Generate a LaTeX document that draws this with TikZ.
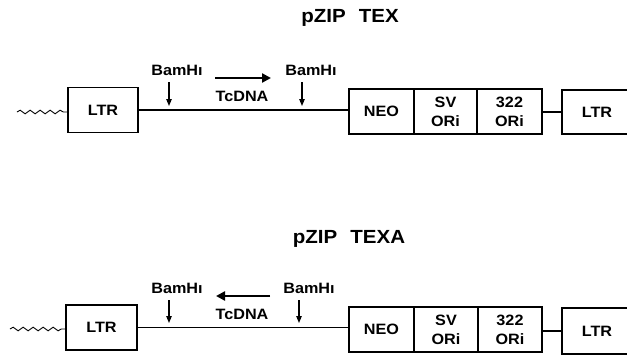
\documentclass[tikz,border=0pt]{standalone}
\usepackage{fontspec}
\setmainfont[FakeStretch=1.08]{Liberation Sans}
\usetikzlibrary{decorations.pathmorphing,arrows.meta}
\begin{document}
\begin{tikzpicture}[x=1pt,y=-1pt,
  box/.style={draw, line width=1.2pt, minimum height=45, inner sep=0, align=center,
    font=\bfseries\fontsize{15}{19}\selectfont},
  lbl/.style={inner sep=0, font=\bfseries\fontsize{15}{17}\selectfont},
  ttl/.style={inner sep=0, font=\bfseries\fontsize{19}{22}\selectfont},
  dnaline/.style={line width=1.1pt},
  wave/.style={line width=0.9pt, decorate, decoration={snake, segment length=10, amplitude=1.8}},
  cutarrow/.style={line width=1.1pt, -{Triangle[length=7pt,width=5.5pt]}},
  dirarrow/.style={line width=2.5pt, -{Triangle[length=9pt,width=9pt]}}
]
\useasboundingbox (0,0) rectangle (627,356);
\clip (0,0) rectangle (627,356);

% ---------- top: pZIP TEX ----------
\node[ttl] (t1) at (350,18) {pZIP\hspace{13pt}TEX};
\node[box, minimum width=70] (ltrA1) at (103,110) {LTR};
\node[box, minimum width=65] (neo1) at (381.5,111.5) {NEO};
\node[box, minimum width=63] (sv1) at (445.5,111.5) {SV\\ORi};
\node[box, minimum width=65] (ori1) at (509.5,111.5) {322\\ORi};
\node[box, minimum width=70, minimum height=44] (ltrB1) at (597,112) {LTR};
\coordinate (w1) at (17,112);
\draw[wave] (w1) -- (ltrA1.west |- w1);
\draw[dnaline] (ltrA1.east) -- (ltrA1.east -| neo1.west);
\draw[dnaline] (ori1.east |- ltrB1.west) -- (ltrB1.west);
\node[lbl] (bamL1) at (177,70) {BamHı};
\node[lbl] (bamR1) at (311,70) {BamHı};
\coordinate (cL1s) at (169,82); \coordinate (cL1e) at (169,106);
\coordinate (cR1s) at (302,82); \coordinate (cR1e) at (302,106);
\draw[cutarrow] (cL1s) -- (cL1e);
\draw[cutarrow] (cR1s) -- (cR1e);
\coordinate (d1s) at (215,78); \coordinate (d1e) at (271,78);
\draw[dirarrow] (d1s) -- (d1e);
\node[lbl] (tc1) at (242,96) {TcDNA};

% ---------- bottom: pZIP TEXA ----------
\node[ttl] (t2) at (349,239) {pZIP\hspace{13pt}TEXA};
\node[box, minimum width=71] (ltrA2) at (101.5,327.5) {LTR};
\node[box, minimum width=65] (neo2) at (381.5,329.5) {NEO};
\node[box, minimum width=64] (sv2) at (446,329.5) {SV\\ORi};
\node[box, minimum width=64] (ori2) at (510,329.5) {322\\ORi};
\node[box, minimum width=70, minimum height=46] (ltrB2) at (597,331) {LTR};
\coordinate (w2) at (10,329);
\draw[wave] (w2) -- (ltrA2.west |- w2);
\draw[dnaline] (ltrA2.east) -- (ltrA2.east -| neo2.west);
\draw[dnaline] (ori2.east |- ltrB2.west) -- (ltrB2.west);
\node[lbl] (bamL2) at (177,288) {BamHı};
\node[lbl] (bamR2) at (309,288) {BamHı};
\coordinate (cL2s) at (169,300); \coordinate (cL2e) at (169,323);
\coordinate (cR2s) at (299,300); \coordinate (cR2e) at (299,323);
\draw[cutarrow] (cL2s) -- (cL2e);
\draw[cutarrow] (cR2s) -- (cR2e);
\coordinate (d2s) at (270,296); \coordinate (d2e) at (216,296);
\draw[dirarrow] (d2s) -- (d2e);
\node[lbl] (tc2) at (242,314) {TcDNA};
\end{tikzpicture}
\end{document}
